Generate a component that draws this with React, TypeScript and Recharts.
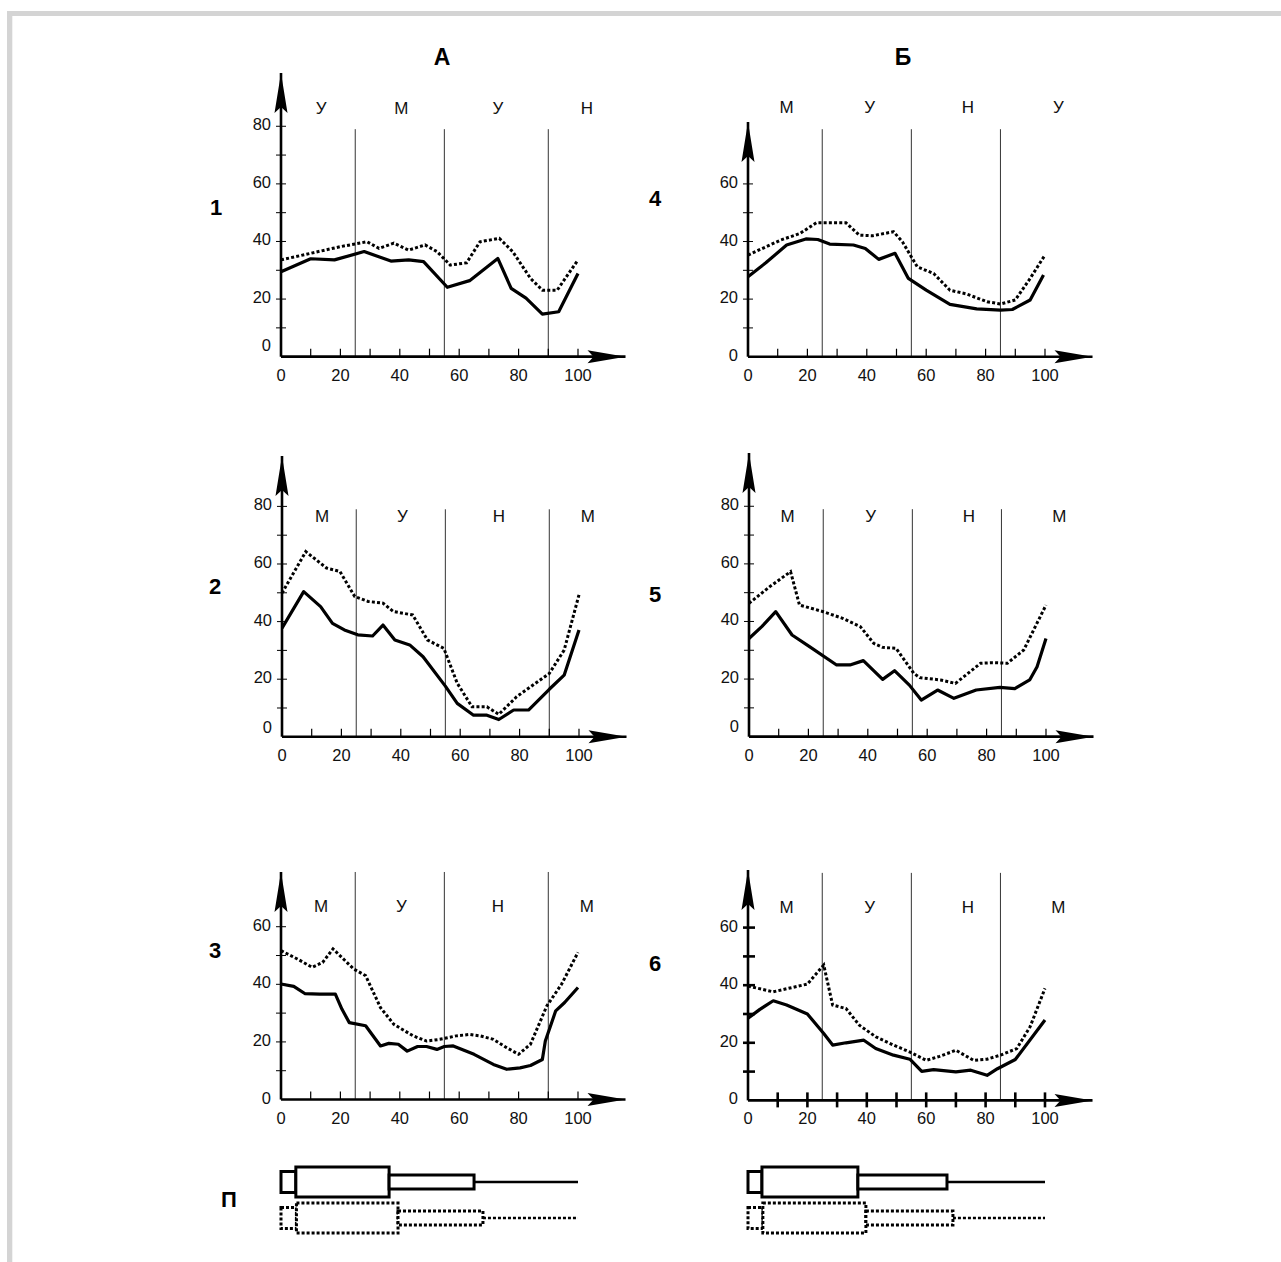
import React from "react";
import {
  LineChart,
  ComposedChart,
  Line,
  XAxis,
  YAxis,
  ReferenceLine,
  ReferenceDot,
  ReferenceArea,
} from "recharts";

const FONT = '"Liberation Sans", Arial, sans-serif';

// shared axis ticks (labelled every 20)
const xTicks = [0, 10, 20, 30, 40, 50, 60, 70, 80, 90, 100];
const yTicks80 = [0, 10, 20, 30, 40, 50, 60, 70, 80];
const yTicks60 = [0, 10, 20, 30, 40, 50, 60];

// zone boundaries and where the zone letters sit
const zonesA = [25, 55, 90];
const zonesB = [25, 55, 85];
const zoneLabelAtA = [13.5, 40.5, 73, 103];
const zoneLabelAtB = [13, 41, 74, 104.5];

const labels1 = ["У", "М", "У", "Н"];
const labels4 = ["М", "У", "Н", "У"];
const labelsMUNM = ["М", "У", "Н", "М"];

type Pt = [number, number];

// panel 1
const p1Solid: Pt[] = [[0, 29.5], [10, 34], [18, 33.6], [28, 36.5], [37, 33.2], [43, 33.6], [48, 33], [56, 24.1], [63.5, 26.4], [73, 34.1], [77.5, 23.7], [82.5, 20.3], [88, 14.8], [93.5, 15.6], [100, 28.9]];
const p1Dotted: Pt[] = [[0, 33.6], [10, 35.9], [20, 38.2], [29, 39.9], [33, 37.6], [38, 39.4], [43, 37], [48.5, 38.8], [52.5, 36.5], [57, 31.8], [62.5, 32.6], [67, 39.9], [73.5, 41.1], [78, 36.5], [84, 27.2], [88, 23.1], [93, 23.1], [100, 33.6]];

// panel 4
const p4Solid: Pt[] = [[0, 27.8], [6, 32.6], [13, 38.8], [19.5, 40.9], [23.5, 40.7], [27.5, 39.1], [35.5, 38.8], [39.5, 37.6], [44, 33.8], [49.5, 35.9], [54, 27.2], [60, 23.1], [68, 18.2], [77, 16.6], [85, 16.2], [89, 16.4], [95, 19.7], [99.5, 28.4]];
const p4Dotted: Pt[] = [[0, 35.3], [11, 40.5], [17.5, 42.8], [23, 46.5], [33, 46.5], [37.5, 42.2], [42, 42], [49, 43.4], [52, 39.9], [57, 31.2], [62.5, 28.9], [68, 23.1], [73.5, 21.8], [80.5, 19.1], [85, 18.3], [90, 19.7], [95, 27.2], [100, 35.3]];

// panel 2
const p2Solid: Pt[] = [[0, 37.7], [7.3, 50.4], [13, 45.2], [17, 39.4], [21, 37.1], [25.5, 35.4], [30.5, 35], [34, 38.8], [38, 33.6], [43, 31.9], [47.5, 27.8], [55, 17.6], [59, 11.6], [64.5, 7.5], [69, 7.5], [73, 6], [78, 9.3], [83, 9.3], [90, 16.5], [95, 21.4], [100, 37.1]];
const p2Dotted: Pt[] = [[0, 49.9], [8, 64.3], [15, 58.6], [19.5, 57.4], [24.5, 48.7], [29, 47], [34, 46.4], [37.5, 43.5], [44, 42.3], [49, 33.6], [54.5, 30.7], [59, 18.6], [64, 10.4], [69, 10.4], [73, 7.8], [79, 13.9], [90, 22], [95, 30.1], [100, 49.3]];

// panel 5
const p5Solid: Pt[] = [[0, 34.1], [4.3, 38.2], [9, 43.4], [14.5, 35.3], [20.5, 31.2], [29.5, 24.9], [34, 24.9], [38.5, 26.4], [45, 19.9], [49, 22.9], [54, 17.9], [58, 12.7], [63.5, 16.2], [69, 13.3], [76.5, 16.2], [84.5, 17.1], [89.5, 16.7], [94.5, 19.7], [97, 24.3], [100, 34.1]];
const p5Dotted: Pt[] = [[0, 46.3], [7, 52.1], [14, 57.3], [17, 45.7], [25, 43.4], [31.5, 41.1], [37.5, 38.2], [42, 32.4], [45, 31], [49.5, 30.7], [55.5, 22], [57.5, 20.5], [64.5, 19.7], [69.5, 18.5], [78, 25.5], [82, 25.7], [87, 25.5], [92.5, 30.1], [100, 45.7]];

// panel 3
const p3Solid: Pt[] = [[0, 40.1], [4.3, 39.3], [8, 36.8], [13, 36.6], [18.3, 36.6], [20.5, 31.4], [23, 26.7], [28.5, 25.6], [33.5, 18.6], [36.3, 19.5], [39.5, 19.2], [42.5, 16.8], [46, 18.4], [49, 18.4], [52.5, 17.4], [55, 18.4], [58, 18.6], [65, 15.7], [71.5, 12.2], [76, 10.5], [80.5, 11], [84, 11.8], [88, 13.9], [89, 20.3], [92.5, 30.8], [95.5, 33.7], [100, 38.9]];
const p3Dotted: Pt[] = [[0, 51.7], [5.5, 48.8], [10.5, 45.9], [14, 47.6], [17.5, 52.3], [24.5, 45.3], [28.5, 43], [33.5, 31.9], [38, 26.1], [44.5, 22.1], [49, 20.3], [53.5, 20.9], [59, 22.1], [63.5, 22.6], [67, 22.1], [71.5, 20.9], [76, 18], [80, 15.7], [84, 19.2], [89.5, 32.5], [94.5, 40.1], [100, 51.1]];

// panel 6
const p6Solid: Pt[] = [[0, 28.5], [4, 31.6], [8.5, 34.6], [13, 33.1], [20, 30], [25.5, 23.2], [28.5, 19.2], [33, 20], [39, 20.9], [43, 18], [49, 15.7], [54.5, 14.3], [58.5, 10.1], [62.5, 10.7], [70, 9.9], [75, 10.5], [80.5, 8.7], [84, 11], [90, 14.2], [100, 27.9]];
const p6Dotted: Pt[] = [[0, 39.7], [8.5, 37.7], [20, 40.4], [25.5, 47], [28.5, 33.1], [33, 31.9], [37.5, 26.1], [43, 22.1], [49, 19.2], [54.5, 16.8], [60, 13.9], [64.5, 15.3], [70, 17.4], [76, 13.9], [80.5, 14.3], [85, 15.7], [90.5, 18], [95, 25.6], [100, 38.9]];

// bottom profile bars: segment boundaries along 0..100
const profASolid = [0, 5, 36.4, 65, 100];
const profADotted = [0, 5.2, 39.4, 68, 100];
const profBSolid = [0, 4.7, 37, 67, 100];
const profBDotted = [0, 5, 39.7, 69, 100];

const KX = 2.97;
const KY = 2.88;
const X_MAX = 116;
const Y_LEFT = 60;
const X_H = 40;
const TOP = 40;
const RIGHT = 20;

interface PanelProps {
  ox: number;
  oy: number;
  yMax: number;
  yTicks: number[];
  solid: Pt[];
  dotted: Pt[];
  zones: number[];
  zoneAt: number[];
  zoneLabels: string[];
  labelY: number;
  zeroLift: number;
  heavy?: boolean;
}

function Panel(p: PanelProps) {
  const plotW = X_MAX * KX;
  const plotH = p.yMax * KY;
  const width = Y_LEFT + plotW + RIGHT;
  const height = TOP + plotH + X_H;
  const solid = p.solid.map(([x, y]) => ({ x, y }));
  const dotted = p.dotted.map(([x, y]) => ({ x, y }));

  const xTick = (t: any) => {
    const { x, y, payload } = t;
    const v = payload.value;
    return (
      <g>
        {v !== 0 && (
          <line
            x1={x}
            x2={x}
            y1={p.heavy ? y + 7 : y}
            y2={y - 8}
            stroke="#000"
            strokeWidth={p.heavy ? 2.6 : 1.2}
          />
        )}
        {v % 20 === 0 && (
          <text x={x} y={y + 18} textAnchor="middle" dominantBaseline="central" fontSize={16.5} fontFamily={FONT} fill="#111">
            {v}
          </text>
        )}
      </g>
    );
  };

  const yTick = (t: any) => {
    const { x, y, payload } = t;
    const v = payload.value;
    return (
      <g>
        {v !== 0 && (
          <line
            x1={x - 5}
            x2={p.heavy ? x + 7 : x + 5}
            y1={y}
            y2={y}
            stroke="#000"
            strokeWidth={p.heavy ? 2.6 : 1}
          />
        )}
        {v % 20 === 0 && (
          <text
            x={x - 10}
            y={y - 2 - (v === 0 ? p.zeroLift : 0)}
            textAnchor="end"
            dominantBaseline="central"
            fontSize={16.5}
            fontFamily={FONT}
            fill="#111"
          >
            {v}
          </text>
        )}
      </g>
    );
  };

  const xArrow = (d: any) => (
    <path
      d={`M${d.cx},${d.cy} L${d.cx - 38},${d.cy - 6.5} L${d.cx - 32},${d.cy} L${d.cx - 38},${d.cy + 6.5} Z`}
      fill="#000"
    />
  );
  const yArrow = (d: any) => (
    <path
      d={`M${d.cx},${d.cy} L${d.cx - 6.5},${d.cy + 40} L${d.cx},${d.cy + 34} L${d.cx + 6.5},${d.cy + 40} Z`}
      fill="#000"
    />
  );

  return (
    <div style={{ position: "absolute", left: p.ox - Y_LEFT, top: p.oy - plotH - TOP }}>
      <LineChart width={width} height={height} margin={{ top: TOP, right: RIGHT, bottom: 0, left: 0 }}>
        <XAxis
          type="number"
          dataKey="x"
          domain={[0, X_MAX]}
          ticks={xTicks}
          interval={0}
          height={X_H}
          tickSize={0}
          tickMargin={0}
          tickLine={false}
          tick={xTick}
          axisLine={{ stroke: "#000", strokeWidth: 2.6 }}
          allowDataOverflow
        />
        <YAxis
          type="number"
          domain={[0, p.yMax]}
          ticks={p.yTicks}
          interval={0}
          width={Y_LEFT}
          tickSize={0}
          tickMargin={0}
          tickLine={false}
          tick={yTick}
          axisLine={{ stroke: "#000", strokeWidth: 2.6 }}
          allowDataOverflow
        />
        {p.zones.map((b) => (
          <ReferenceLine
            key={"zl" + b}
            segment={[
              { x: b, y: 0 },
              { x: b, y: 79 },
            ]}
            stroke="#333"
            strokeWidth={1}
            ifOverflow="visible"
          />
        ))}
        {p.zoneLabels.map((s, i) => (
          <ReferenceDot
            key={"zt" + i}
            x={p.zoneAt[i]}
            y={p.labelY}
            ifOverflow="visible"
            shape={(d: any) => (
              <text x={d.cx} y={d.cy} textAnchor="middle" dominantBaseline="central" fontSize={17} fontFamily={FONT} fill="#111">
                {s}
              </text>
            )}
          />
        ))}
        <Line
          data={dotted}
          dataKey="y"
          type="linear"
          stroke="#000"
          strokeWidth={3}
          strokeDasharray="3 2.2"
          dot={false}
          activeDot={false}
          isAnimationActive={false}
        />
        <Line
          data={solid}
          dataKey="y"
          type="linear"
          stroke="#000"
          strokeWidth={3.2}
          strokeLinejoin="round"
          dot={false}
          activeDot={false}
          isAnimationActive={false}
        />
        <ReferenceDot x={X_MAX} y={0} ifOverflow="visible" shape={xArrow} />
        <ReferenceDot x={0} y={p.yMax} ifOverflow="visible" shape={yArrow} />
      </LineChart>
    </div>
  );
}

function Profile({ ox, solid, dotted }: { ox: number; solid: number[]; dotted: number[] }) {
  const halves = [10.5, 15, 7];
  const rows = [
    { b: solid, c: 58, dash: undefined as string | undefined },
    { b: dotted, c: 22, dash: "3 2" },
  ];
  return (
    <div style={{ position: "absolute", left: ox - 6, top: 1155 }}>
      <ComposedChart width={309} height={90} margin={{ top: 5, right: 6, bottom: 5, left: 6 }} data={[{ x: 0 }, { x: 100 }]}>
        <XAxis type="number" dataKey="x" domain={[0, 100]} hide allowDataOverflow />
        <YAxis type="number" domain={[0, 80]} hide allowDataOverflow />
        {rows.map((r, ri) =>
          [0, 1, 2].map((i) => (
            <ReferenceArea
              key={`a${ri}-${i}`}
              x1={r.b[i]}
              x2={r.b[i + 1]}
              y1={r.c - halves[i]}
              y2={r.c + halves[i]}
              fill="#fff"
              fillOpacity={1}
              stroke="#000"
              strokeWidth={3}
              strokeDasharray={r.dash}
              ifOverflow="visible"
            />
          ))
        )}
        {rows.map((r, ri) => (
          <ReferenceLine
            key={"t" + ri}
            segment={[
              { x: r.b[3], y: r.c },
              { x: r.b[4], y: r.c },
            ]}
            stroke="#000"
            strokeWidth={2.6}
            strokeDasharray={r.dash}
            ifOverflow="visible"
          />
        ))}
      </ComposedChart>
    </div>
  );
}

const bold = { fontFamily: FONT, fontWeight: 700, fill: "#000" } as const;

export default function App() {
  return (
    <div style={{ position: "absolute", left: 0, top: 0, width: 1281, height: 1262, background: "#fff", overflow: "hidden" }}>
      <svg width={1281} height={1262} style={{ position: "absolute", left: 0, top: 0 }}>
        <rect x={7} y={11} width={5.3} height={1251} fill="#d4d4d4" />
        <rect x={7} y={11} width={1274} height={5} fill="#d4d4d4" />
        <text x={442} y={57} textAnchor="middle" dominantBaseline="central" fontSize={23} {...bold}>А</text>
        <text x={903} y={57} textAnchor="middle" dominantBaseline="central" fontSize={23} {...bold}>Б</text>
        <text x={216} y={207} textAnchor="middle" dominantBaseline="central" fontSize={22} {...bold}>1</text>
        <text x={655} y={198} textAnchor="middle" dominantBaseline="central" fontSize={22} {...bold}>4</text>
        <text x={215} y={586} textAnchor="middle" dominantBaseline="central" fontSize={22} {...bold}>2</text>
        <text x={655} y={594} textAnchor="middle" dominantBaseline="central" fontSize={22} {...bold}>5</text>
        <text x={215} y={950} textAnchor="middle" dominantBaseline="central" fontSize={22} {...bold}>3</text>
        <text x={655} y={963} textAnchor="middle" dominantBaseline="central" fontSize={22} {...bold}>6</text>
        <text x={229} y={1199} textAnchor="middle" dominantBaseline="central" fontSize={22} {...bold}>П</text>
      </svg>

      <Panel ox={281} oy={357} yMax={98.5} yTicks={yTicks80} solid={p1Solid} dotted={p1Dotted} zones={zonesA} zoneAt={zoneLabelAtA} zoneLabels={labels1} labelY={86} zeroLift={10} />
      <Panel ox={748} oy={357} yMax={81.5} yTicks={yTicks60} solid={p4Solid} dotted={p4Dotted} zones={zonesB} zoneAt={zoneLabelAtB} zoneLabels={labels4} labelY={86.5} zeroLift={0} />
      <Panel ox={282} oy={737} yMax={97.5} yTicks={yTicks80} solid={p2Solid} dotted={p2Dotted} zones={zonesA} zoneAt={zoneLabelAtA} zoneLabels={labelsMUNM} labelY={76.5} zeroLift={8} />
      <Panel ox={749} oy={737} yMax={98.5} yTicks={yTicks80} solid={p5Solid} dotted={p5Dotted} zones={zonesB} zoneAt={zoneLabelAtB} zoneLabels={labelsMUNM} labelY={76.5} zeroLift={9} />
      <Panel ox={281} oy={1100} yMax={79} yTicks={yTicks60} solid={p3Solid} dotted={p3Dotted} zones={zonesA} zoneAt={zoneLabelAtA} zoneLabels={labelsMUNM} labelY={67} zeroLift={0} />
      <Panel ox={748} oy={1100} yMax={80} yTicks={yTicks60} solid={p6Solid} dotted={p6Dotted} zones={zonesB} zoneAt={zoneLabelAtB} zoneLabels={labelsMUNM} labelY={67} zeroLift={0} heavy />

      <Profile ox={281} solid={profASolid} dotted={profADotted} />
      <Profile ox={748} solid={profBSolid} dotted={profBDotted} />
    </div>
  );
}
